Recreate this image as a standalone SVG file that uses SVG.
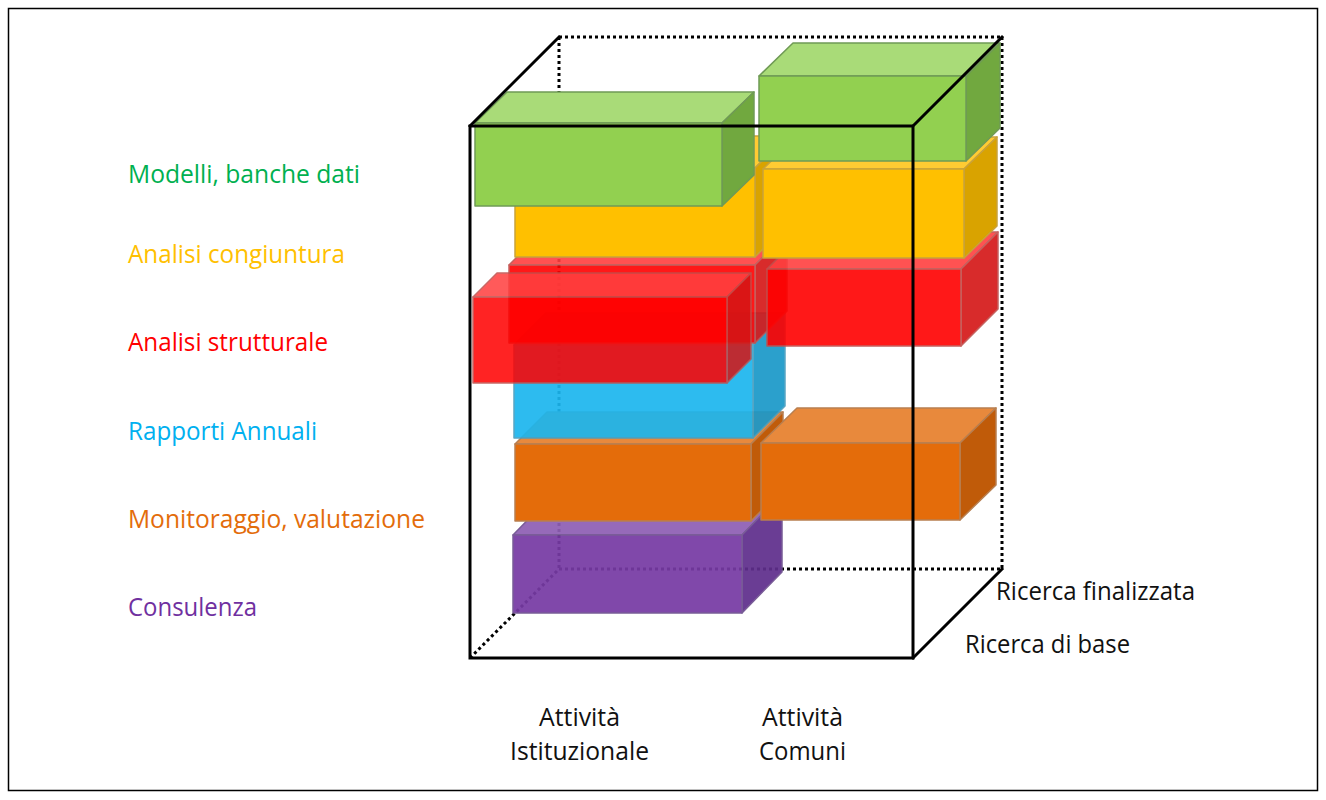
<svg xmlns="http://www.w3.org/2000/svg" width="1326" height="800" viewBox="0 0 1326 800">
<style>
  .lbl{font-family:"Open Sans","Liberation Sans",sans-serif;font-size:25px}
  .blk{fill:#111}
  .edge{stroke-width:1.5;stroke-linejoin:round}
  .g .f{fill:#92D050}.g .t{fill:#A9DB78}.g .r{fill:#71A83F}.g polygon,.g rect{stroke:#6f9a55}
  .y .f{fill:#FFC000}.y .t{fill:#FFCB33}.y .r{fill:#D9A300}.y polygon,.y rect{stroke:#C9A23A}
  .rd .f{fill:#FF0000}.rd .t{fill:#FF4040}.rd .r{fill:#D41515}.rd polygon,.rd rect{stroke:#C0504D}
  .b .f{fill:#1CB6EE}.b .t{fill:#45C5F2}.b .r{fill:#1A98C8}.b polygon,.b rect{stroke:#4A9FC0}
  .o .f{fill:#E46C0A}.o .t{fill:#E8893C}.o .r{fill:#C05B09}.o polygon,.o rect{stroke:#B87F50}
  .p .f{fill:#773BA4}.p .t{fill:#8F5FB4}.p .r{fill:#5F2F8C}.p polygon,.p rect{stroke:#6F5090}
  .solid{fill:none;stroke:#000;stroke-width:3;stroke-linecap:square}
  .dot{fill:none;stroke:#000;stroke-width:3;stroke-dasharray:3 3}
</style>
<rect x="8.5" y="8.5" width="1309" height="782" fill="#fff" stroke="#000" stroke-width="1.5"/>

<g id="cube-back">
  <line class="dot" x1="559" y1="37" x2="1002" y2="37"/>
  <line class="dot" x1="1002" y1="37" x2="1002" y2="569"/>
  <line class="dot" x1="559" y1="37" x2="559" y2="569"/>
  <line class="dot" x1="559" y1="569" x2="1002" y2="569"/>
  <line class="dot" x1="470" y1="658" x2="559" y2="569"/>
</g>

<g id="consulenza" class="p edge" opacity="0.93">
  <polygon class="t" points="513,535 553,494 782,494 742,535"/>
  <polygon class="r" points="742,535 782,494 782,572 742,613"/>
  <rect class="f" x="513" y="535" width="229" height="78"/>
</g>
<g id="monitoraggio-istituzionale" class="o edge">
  <polygon class="t" points="515,444 547,412 783,412 751,444"/>
  <polygon class="r" points="751,444 783,412 783,489 751,521"/>
  <rect class="f" x="515" y="444" width="236" height="77"/>
</g>
<g id="monitoraggio-comuni" class="o edge">
  <polygon class="t" points="761,443 797,408 996,408 960,443"/>
  <polygon class="r" points="960,443 996,408 996,485 960,520"/>
  <rect class="f" x="761" y="443" width="199" height="77"/>
</g>
<g id="rapporti-annuali" class="b edge" opacity="0.92">
  <polygon class="t" points="514,345 546,313 785,313 753,345"/>
  <polygon class="r" points="753,345 785,313 785,406 753,438"/>
  <rect class="f" x="514" y="345" width="239" height="93"/>
</g>
<g id="strutturale-base" class="rd edge" opacity="0.9">
  <polygon class="t" points="509,265 541,233 787,233 755,265"/>
  <polygon class="r" points="755,265 787,233 787,311 755,343"/>
  <rect class="f" x="509" y="265" width="246" height="78"/>
</g>
<g id="strutturale-comuni" class="rd edge" opacity="0.9">
  <polygon class="t" points="767,269 804,232 998,232 961,269"/>
  <polygon class="r" points="961,269 998,232 998,309 961,346"/>
  <rect class="f" x="767" y="269" width="194" height="77"/>
</g>
<g id="strutturale-istituzionale" class="rd edge" opacity="0.86">
  <polygon class="t" points="473,297 497,273 751,273 727,297"/>
  <polygon class="r" points="727,297 751,273 751,359 727,383"/>
  <rect class="f" x="473" y="297" width="254" height="86"/>
</g>
<g id="congiuntura-istituzionale" class="y edge">
  <polygon class="t" points="515,168 547,136 787,136 755,168"/>
  <polygon class="r" points="755,168 787,136 787,225 755,257"/>
  <rect class="f" x="515" y="168" width="240" height="89"/>
</g>
<g id="congiuntura-comuni" class="y edge">
  <polygon class="t" points="763,169 796,137 997,137 964,169"/>
  <polygon class="r" points="964,169 997,137 997,226 964,258"/>
  <rect class="f" x="763" y="169" width="201" height="89"/>
</g>
<g id="modelli-istituzionale" class="g edge">
  <polygon class="t" points="475,123 507,92 754,92 722,123"/>
  <polygon class="r" points="722,123 754,92 754,175 722,206"/>
  <rect class="f" x="475" y="123" width="247" height="83"/>
</g>
<g id="modelli-comuni" class="g edge">
  <polygon class="t" points="759,76 793,43 1000,43 966,76"/>
  <polygon class="r" points="966,76 1000,43 1000,128 966,161"/>
  <rect class="f" x="759" y="76" width="207" height="85"/>
</g>

<g id="cube-front">
  <rect class="solid" x="470" y="126" width="443" height="532"/>
  <line class="solid" x1="470" y1="126" x2="559" y2="37"/>
  <line class="solid" x1="913" y1="126" x2="1002" y2="37"/>
  <line class="solid" x1="913" y1="658" x2="1002" y2="569"/>
</g>

<g id="row-labels" class="lbl">
  <text x="128" y="183" fill="#00B050" textLength="232" lengthAdjust="spacingAndGlyphs">Modelli, banche dati</text>
  <text x="128" y="263" fill="#FFC000" textLength="217" lengthAdjust="spacingAndGlyphs">Analisi congiuntura</text>
  <text x="128" y="351" fill="#FF0000" textLength="200" lengthAdjust="spacingAndGlyphs">Analisi strutturale</text>
  <text x="128" y="440" fill="#00B0F0" textLength="189" lengthAdjust="spacingAndGlyphs">Rapporti Annuali</text>
  <text x="128" y="528" fill="#E36C0A" textLength="297" lengthAdjust="spacingAndGlyphs">Monitoraggio, valutazione</text>
  <text x="128" y="616" fill="#7030A0" textLength="129" lengthAdjust="spacingAndGlyphs">Consulenza</text>
</g>
<g id="depth-labels" class="lbl blk">
  <text x="996" y="600" textLength="199" lengthAdjust="spacingAndGlyphs">Ricerca finalizzata</text>
  <text x="965" y="653" textLength="165" lengthAdjust="spacingAndGlyphs">Ricerca di base</text>
</g>
<g id="column-labels" class="lbl blk">
  <text x="539" y="726" textLength="81" lengthAdjust="spacingAndGlyphs">Attività</text>
  <text x="510" y="760" textLength="139" lengthAdjust="spacingAndGlyphs">Istituzionale</text>
  <text x="762" y="726" textLength="81" lengthAdjust="spacingAndGlyphs">Attività</text>
  <text x="759" y="760" textLength="87" lengthAdjust="spacingAndGlyphs">Comuni</text>
</g>
</svg>
